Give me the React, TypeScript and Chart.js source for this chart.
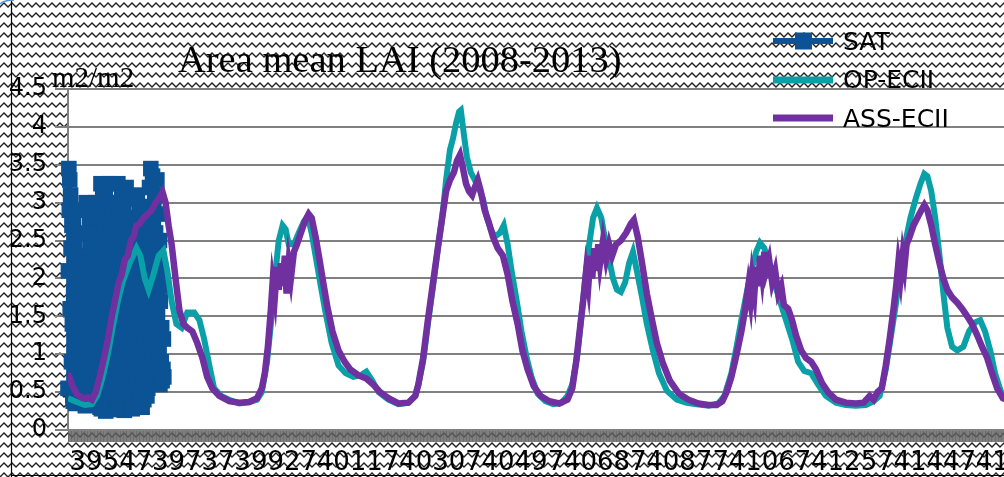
import React, { useEffect, useRef } from "react";
import { Chart, registerables } from "chart.js";

Chart.register(...registerables);

// Excel serial of 2008-01-01 (first day on the category axis)
const startSerial = 39448;
const endSerial = 41639;

const xTickLabels = [39547, 39737, 39927, 40117, 40307, 40497, 40687, 40877, 41067, 41257, 41447, 41637];

// OP-ECII: days since 2008-01-01 and LAI values
const opDays = [
  0, 16, 39, 55, 67, 80, 92, 103, 115, 126, 142, 158, 167, 177, 186, 197, 209, 220, 229, 239, 250, 262, 275, 291, 303, 314, 326, 337, 353, 372, 395, 418, 436, 447,
  459, 468, 477, 486, 495, 502, 509, 521, 532, 544, 553, 562, 571, 583, 594, 608, 624, 640, 658, 674, 688, 702, 716, 739, 762, 785, 801,
  808, 819, 830, 842, 853, 863, 872, 881, 888, 895, 902, 906, 913, 920, 929, 938, 947, 957, 966, 975, 984, 996, 1005, 1014, 1023, 1035, 1046, 1058, 1069, 1083, 1101, 1119, 1138, 1152,
  1163, 1175, 1184, 1193, 1202, 1211, 1220, 1230, 1239, 1248, 1257, 1266, 1275, 1285, 1294, 1303, 1312, 1324, 1335, 1349, 1363, 1381, 1404, 1427, 1450, 1477, 1500, 1514,
  1530, 1542, 1553, 1565, 1576, 1587, 1596, 1606, 1617, 1629, 1642, 1656, 1670, 1684, 1698, 1714, 1730, 1748, 1771, 1794, 1817, 1840, 1858, 1872,
  1886, 1897, 1909, 1920, 1932, 1943, 1955, 1966, 1975, 1982, 1991, 2000, 2010, 2019, 2028, 2039, 2051, 2065, 2078, 2092, 2104, 2115, 2127, 2138, 2152, 2170, 2191,
];
const opValues = [
  0.42, 0.38, 0.33, 0.34, 0.45, 0.7, 1.0, 1.35, 1.7, 1.95, 2.2, 2.4, 2.3, 2.0, 1.85, 2.05, 2.3, 2.37, 2.1, 1.7, 1.4, 1.35, 1.55, 1.55, 1.45, 1.2, 0.85, 0.55, 0.45, 0.4, 0.35, 0.37, 0.4, 0.5,
  0.9, 1.4, 2.0, 2.5, 2.7, 2.65, 2.45, 2.45, 2.6, 2.75, 2.82, 2.6, 2.3, 1.9, 1.55, 1.15, 0.85, 0.75, 0.7, 0.72, 0.77, 0.65, 0.5, 0.4, 0.34, 0.36, 0.45,
  0.6, 0.9, 1.4, 1.9, 2.4, 2.8, 3.3, 3.7, 3.85, 4.05, 4.2, 4.22, 3.9, 3.6, 3.4, 3.3, 3.2, 3.05, 2.8, 2.65, 2.55, 2.6, 2.7, 2.45, 2.1, 1.7, 1.3, 0.95, 0.7, 0.48, 0.38, 0.34, 0.36, 0.45,
  0.6, 1.0, 1.5, 2.0, 2.45, 2.8, 2.93, 2.8, 2.5, 2.25, 2.0, 1.85, 1.82, 1.95, 2.2, 2.35, 2.1, 1.75, 1.4, 1.05, 0.75, 0.52, 0.4, 0.36, 0.34, 0.32, 0.35, 0.45,
  0.75, 1.1, 1.45, 1.8, 2.1, 2.35, 2.47, 2.4, 2.2, 1.95, 1.7, 1.45, 1.2, 0.9, 0.78, 0.75, 0.6, 0.45, 0.36, 0.33, 0.32, 0.33, 0.38, 0.45,
  0.8, 1.2, 1.65, 2.1, 2.5, 2.8, 3.05, 3.25, 3.38, 3.35, 3.15, 2.8, 2.3, 1.8, 1.35, 1.1, 1.05, 1.1, 1.3, 1.42, 1.45, 1.3, 1.05, 0.75, 0.5, 0.4, 0.38,
];

// ASS-ECII: days since 2008-01-01 and LAI values
const assDays = [
  0, 9, 21, 34, 46, 55, 64, 73, 83, 92, 101, 110, 117, 124, 131, 138, 145, 151, 158, 165, 174, 184, 193, 202, 211, 218, 225, 232, 239, 248, 257, 266, 275, 287, 298, 310, 321, 333, 349, 372, 395, 418, 436, 447,
  454, 461, 468, 472, 477, 482, 486, 491, 495, 500, 504, 509, 514, 521, 528, 537, 546, 555, 562, 571, 580, 590, 599, 610, 624, 638, 651, 670, 688, 704, 720, 739, 762, 785, 801,
  808, 819, 830, 842, 853, 863, 872, 881, 890, 897, 904, 911, 918, 925, 932, 938, 945, 952, 961, 970, 980, 991, 1003, 1014, 1025, 1037, 1048, 1060, 1074, 1090, 1110, 1133, 1152,
  1163, 1172, 1181, 1189, 1195, 1200, 1205, 1209, 1214, 1218, 1223, 1227, 1234, 1241, 1248, 1255, 1264, 1275, 1287, 1298, 1305, 1314, 1324, 1335, 1347, 1358, 1372, 1388, 1409, 1431, 1454, 1477, 1496, 1509,
  1519, 1530, 1542, 1553, 1562, 1569, 1574, 1578, 1583, 1587, 1592, 1596, 1601, 1606, 1610, 1617, 1624, 1631, 1638, 1645, 1651, 1661, 1670, 1679, 1691, 1702, 1714, 1725, 1739, 1753, 1771, 1794, 1817, 1835, 1849, 1858, 1867,
  1877, 1886, 1895, 1904, 1911, 1915, 1920, 1925, 1929, 1934, 1941, 1950, 1959, 1968, 1975, 1982, 1991, 2000, 2010, 2019, 2028, 2039, 2051, 2062, 2074, 2085, 2097, 2108, 2120, 2131, 2143, 2156, 2173, 2191,
];
const assValues = [
  0.75, 0.6, 0.47, 0.42, 0.43, 0.4, 0.5, 0.7, 0.95, 1.2, 1.5, 1.75, 1.95, 2.05, 2.25, 2.3, 2.5, 2.55, 2.7, 2.72, 2.8, 2.85, 2.9, 3.0, 3.07, 3.14, 3.0, 2.7, 2.45, 2.0, 1.58, 1.4, 1.35, 1.3, 1.15, 0.95, 0.7, 0.55, 0.45, 0.38, 0.36, 0.37, 0.42, 0.55,
  0.75, 1.1, 1.6, 1.95, 1.75, 2.15, 1.85, 2.2, 1.9, 2.3, 1.8, 2.2, 2.0, 2.35, 2.45, 2.6, 2.75, 2.85, 2.8, 2.55, 2.25, 1.9, 1.6, 1.3, 1.05, 0.9, 0.8, 0.72, 0.68, 0.6, 0.5, 0.42, 0.35, 0.36, 0.45,
  0.6, 0.95, 1.45, 1.95, 2.4, 2.8, 3.15, 3.3, 3.4, 3.55, 3.63, 3.45, 3.25, 3.15, 3.1, 3.2, 3.3, 3.15, 2.9, 2.75, 2.55, 2.4, 2.3, 2.05, 1.7, 1.4, 1.05, 0.8, 0.58, 0.45, 0.38, 0.35, 0.4,
  0.55, 0.9, 1.35, 1.75, 2.1, 1.9, 2.3, 2.0, 2.4, 2.1, 2.45, 2.2, 2.5, 2.25, 2.45, 2.3, 2.45, 2.5, 2.6, 2.72, 2.77, 2.55, 2.2, 1.8, 1.45, 1.15, 0.88, 0.65, 0.48, 0.4, 0.35, 0.33, 0.33, 0.38,
  0.5, 0.7, 1.0, 1.3, 1.6, 1.9, 1.7, 2.0, 1.8, 2.15, 1.9, 2.3, 2.05, 2.35, 2.1, 2.25, 1.95, 2.1, 1.8, 1.9, 1.65, 1.6, 1.45, 1.25, 1.05, 0.95, 0.9, 0.8, 0.62, 0.5, 0.4, 0.36, 0.35, 0.36, 0.45, 0.4, 0.5,
  0.55, 0.85, 1.2, 1.6, 1.95, 2.2, 2.0, 2.3, 2.15, 2.45, 2.55, 2.7, 2.8, 2.9, 2.97, 2.9, 2.7, 2.45, 2.2, 2.0, 1.85, 1.75, 1.68, 1.6, 1.5, 1.4, 1.25, 1.1, 0.95, 0.75, 0.55, 0.42, 0.38, 0.36,
];

// SAT: plotted on the first categories of the axis (one value per category)
const satValues = [
  0.55, 2.1, 3.45, 2.9, 3.3, 1.6, 3.1, 2.4, 0.9, 2.7, 1.4, 0.45, 0.38, 1.8, 0.52, 2.5, 0.41, 1.1, 0.35, 2.2, 0.48, 1.6, 0.62, 0.44, 2.9, 0.7, 1.3, 1.05, 0.4, 1.9, 1.45, 0.5, 2.3, 0.36, 2.0, 0.8, 0.42,
  0.36, 0.5, 2.6, 0.32, 0.44, 3.0, 0.6, 0.4, 2.2, 0.55, 0.38, 1.5, 0.75, 2.8, 1.1, 0.85, 2.5, 1.25, 0.45, 1.85, 2.95, 1.7, 0.5, 2.15, 0.9, 2.55, 3.0, 0.7, 2.4, 1.2, 2.85, 0.6, 1.75, 0.35, 1.3, 0.45, 0.9,
  0.3, 1.4, 3.25, 0.28, 2.2, 0.5, 3.1, 0.62, 1.9, 0.4, 2.7, 0.95, 3.2, 0.25, 1.75, 2.05, 0.6, 2.4, 3.0, 0.3, 2.75, 1.1, 3.25, 0.45, 2.6, 1.6, 0.35, 2.35, 0.8, 2.9, 1.5, 0.28, 1.3, 2.2, 0.7, 0.9, 0.45,
  0.32, 2.8, 0.27, 1.65, 3.25, 0.38, 2.4, 0.7, 3.0, 0.5, 1.45, 2.6, 0.3, 3.15, 1.9, 0.45, 2.25, 0.8, 2.95, 0.26, 1.2, 2.5, 0.6, 3.2, 1.0, 2.1, 0.35, 2.7, 1.35, 0.55, 2.0, 0.95, 1.6, 0.4, 1.15, 0.6, 0.3,
  0.28, 1.7, 0.4, 2.45, 0.33, 3.05, 0.52, 1.3, 2.8, 0.3, 2.2, 0.65, 3.1, 0.45, 1.85, 0.9, 2.6, 0.35, 2.9, 1.05, 0.5, 2.3, 1.45, 0.3, 2.65, 0.75, 1.95, 0.4, 2.95, 1.2, 0.6, 2.1, 0.85, 1.5, 0.45, 1.0, 0.55,
  0.62, 2.3, 0.85, 3.2, 0.7, 2.7, 3.45, 1.1, 2.45, 0.9, 3.35, 1.5, 0.65, 2.9, 1.25, 3.1, 0.8, 2.6, 1.9, 0.7, 3.3, 1.6, 2.2, 0.75, 2.85, 1.0, 2.5, 0.6, 1.7, 2.1, 0.9, 1.35, 0.65, 1.9, 0.8, 1.2, 0.7,
];

const seriesNames = ["SAT", "OP-ECII", "ASS-ECII"];
const seriesColors = ["#0b5394", "#0aa0a7", "#7030a0"];
const titleText = "Area mean LAI (2008-2013)";
const unitText = "m2/m2";

const decorPlugin = {
  id: "decor",
  beforeDraw(chart: any) {
    const ctx = chart.ctx as CanvasRenderingContext2D;
    const pc = document.createElement("canvas");
    pc.width = 8;
    pc.height = 10;
    const p = pc.getContext("2d")!;
    p.fillStyle = "#ffffff";
    p.fillRect(0, 0, 8, 10);
    p.strokeStyle = "#222222";
    p.lineWidth = 1.4;
    p.beginPath();
    p.moveTo(-4, 3);
    p.lineTo(0, 7);
    p.lineTo(4, 3);
    p.lineTo(8, 7);
    p.lineTo(12, 3);
    p.stroke();
    const pattern = ctx.createPattern(pc, "repeat")!;
    ctx.save();
    ctx.fillStyle = pattern;
    ctx.fillRect(0, 0, chart.width, chart.height);
    const a = chart.chartArea;
    ctx.fillStyle = "#ffffff";
    ctx.fillRect(a.left, a.top, a.right - a.left, a.bottom - a.top);
    ctx.restore();
  },
  afterDraw(chart: any) {
    const ctx = chart.ctx as CanvasRenderingContext2D;
    ctx.save();
    // outer frame pieces
    ctx.strokeStyle = "#000";
    ctx.lineWidth = 1.2;
    ctx.beginPath();
    ctx.moveTo(11.5, 0);
    ctx.lineTo(11.5, 477);
    ctx.moveTo(11, 475.5);
    ctx.lineTo(chart.width, 475.5);
    ctx.stroke();
    ctx.strokeStyle = "#4a90d9";
    ctx.lineWidth = 1.5;
    ctx.beginPath();
    ctx.moveTo(0, 4);
    ctx.quadraticCurveTo(4, 0, 14, 0);
    ctx.stroke();

    // title and unit
    ctx.fillStyle = "#000";
    ctx.textBaseline = "alphabetic";
    ctx.textAlign = "left";
    ctx.font = '38.5px "Liberation Serif"';
    ctx.fillText(titleText, 178, 72);
    ctx.font = '29px "Liberation Serif"';
    ctx.fillText(unitText, 52, 87);

    // legend
    const lx0 = 773, lx1 = 833;
    const ys = [41, 80, 118];
    const widths = [6, 7, 7];
    const base = [50, 88, 127];
    for (let i = 0; i < 3; i++) {
      ctx.strokeStyle = seriesColors[i];
      ctx.lineWidth = widths[i];
      ctx.beginPath();
      ctx.moveTo(lx0, ys[i]);
      ctx.lineTo(lx1, ys[i]);
      ctx.stroke();
      if (i === 0) {
        ctx.fillStyle = seriesColors[0];
        ctx.fillRect(795, ys[0] - 8.5, 17, 17);
      }
      ctx.fillStyle = "#000";
      ctx.font = '25px "DejaVu Sans"';
      ctx.fillText(seriesNames[i], 843, base[i]);
    }
    ctx.restore();
  },
};

export default function App() {
  const ref = useRef<HTMLCanvasElement>(null);
  useEffect(() => {
    if (!ref.current) return;
    const satData = satValues.map((v, i) => ({ x: startSerial + i, y: v }));
    const opData = opDays.map((d, i) => ({ x: startSerial + d, y: opValues[i] }));
    const assData = assDays.map((d, i) => ({ x: startSerial + d, y: assValues[i] }));
    const chart = new Chart(ref.current, {
      type: "line",
      data: {
        datasets: [
          {
            label: seriesNames[0],
            data: satData,
            borderColor: seriesColors[0],
            backgroundColor: seriesColors[0],
            borderWidth: 5,
            pointStyle: "rect",
            pointRadius: 11,
            pointBorderWidth: 0,
            pointBackgroundColor: seriesColors[0],
            tension: 0,
            clip: false,
            order: 3,
          } as any,
          {
            label: seriesNames[1],
            data: opData,
            borderColor: seriesColors[1],
            borderWidth: 6,
            pointRadius: 0,
            tension: 0,
            order: 2,
          },
          {
            label: seriesNames[2],
            data: assData,
            borderColor: seriesColors[2],
            borderWidth: 6.5,
            pointRadius: 0,
            tension: 0,
            order: 1,
          },
        ],
      },
      options: {
        animation: false,
        responsive: false,
        devicePixelRatio: 1,
        layout: { padding: { top: 89, right: 0, bottom: 0, left: 0 } },
        plugins: { legend: { display: false }, title: { display: false }, tooltip: { enabled: false } },
        scales: {
          x: {
            type: "linear",
            min: startSerial,
            max: endSerial,
            afterBuildTicks: (scale: any) => {
              const t: any[] = [];
              for (let v = startSerial; v <= endSerial; v++) t.push({ value: v });
              scale.ticks = t;
            },
            afterFit: (scale: any) => {
              scale.height = 47;
            },
            ticks: {
              autoSkip: false,
              maxRotation: 0,
              minRotation: 0,
              padding: 6,
              color: "#000",
              font: { family: "DejaVu Sans", size: 26 },
              callback: (v: any) => (xTickLabels.includes(Number(v)) ? String(v) : ""),
            },
            grid: {
              drawOnChartArea: false,
              drawTicks: true,
              tickLength: 12,
              color: "rgba(95,95,95,0.55)",
              lineWidth: 1,
            },
            border: { display: true, color: "#808080", width: 2 },
          },
          y: {
            min: 0,
            max: 4.5,
            afterFit: (scale: any) => {
              scale.width = 68;
            },
            ticks: {
              stepSize: 0.5,
              padding: 8,
              color: "#000",
              font: { family: "DejaVu Sans", size: 24 },
              callback: (v: any) => String(Number(v)),
            },
            grid: { color: "#808080", lineWidth: 2, tickLength: 13 },
            border: { display: true, color: "#808080", width: 2 },
          },
        },
      },
      plugins: [decorPlugin],
    });
    return () => chart.destroy();
  }, []);
  return (
    <div style={{ position: "fixed", left: 0, top: 0, width: 1004, height: 477, overflow: "hidden", background: "#fff" }}>
      <canvas ref={ref} width={1029} height={477} style={{ display: "block", width: 1029, height: 477 }} />
    </div>
  );
}
